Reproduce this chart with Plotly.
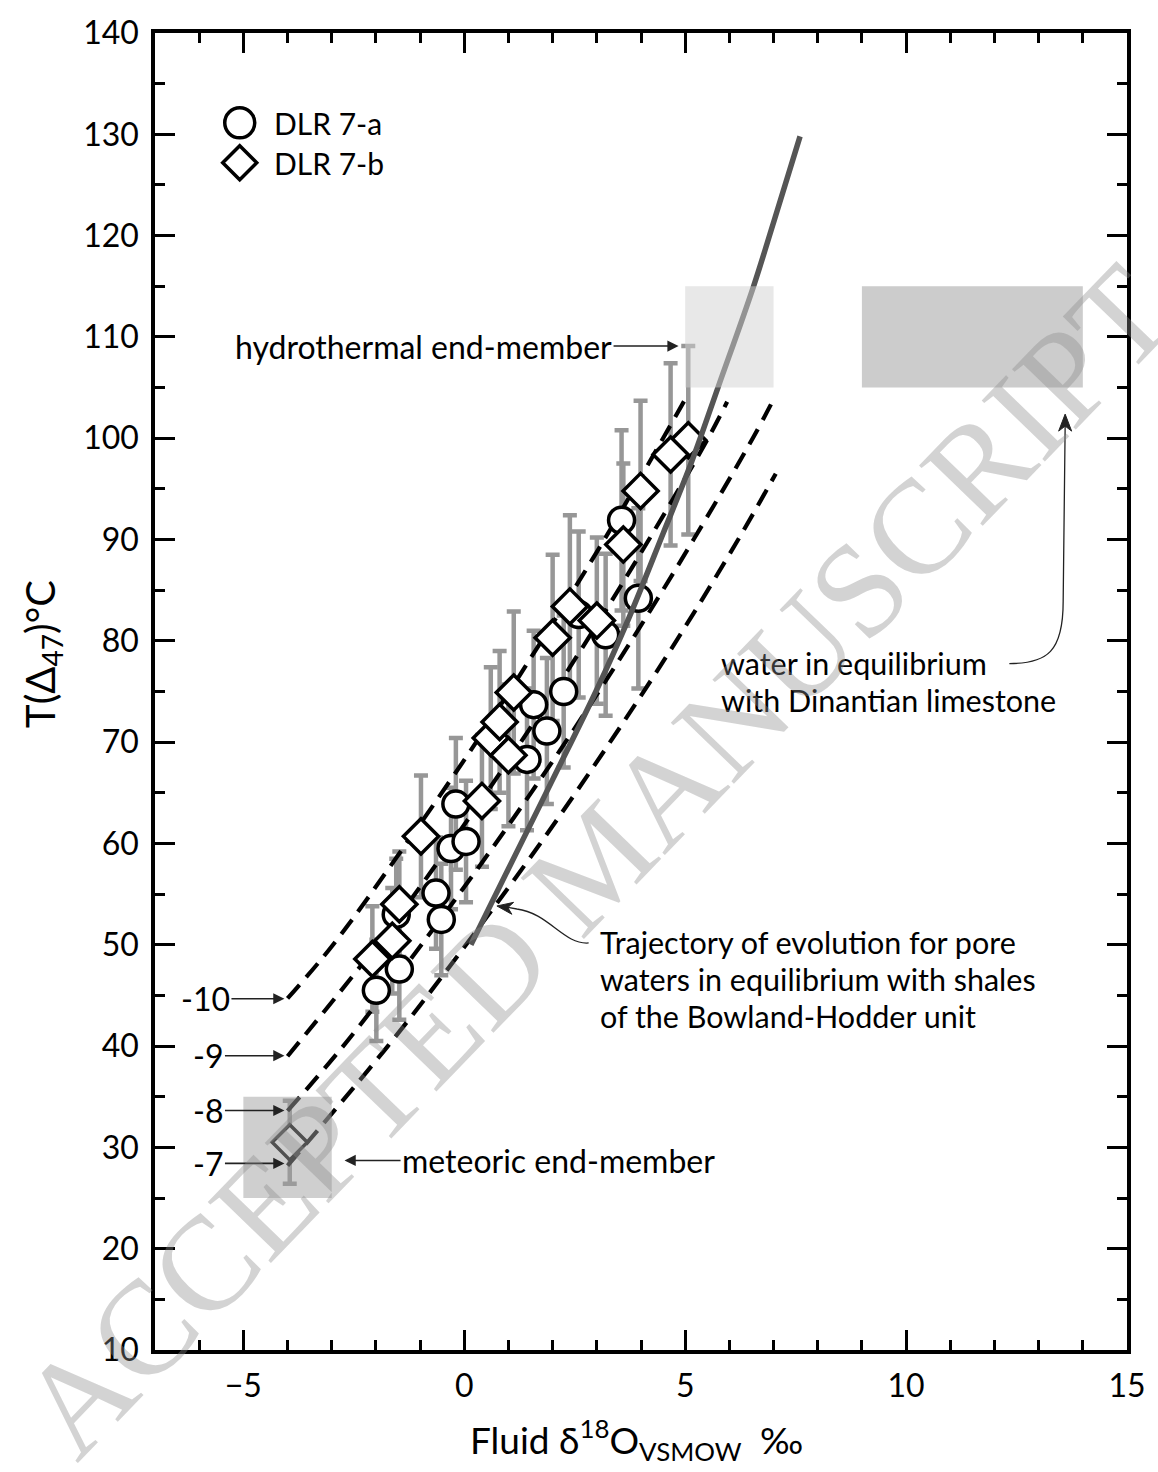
import plotly.graph_objects as go

# ---------------- data ----------------
# DLR 7-a (circles): fluid d18O (permil VSMOW), T(D47) degC, 1-sigma error on T
a_x = [3.56, 3.94, 2.59, 3.20, 2.25, 1.57, 1.87, 1.42, -0.19, -0.30, 0.04, -0.64, -0.52, -1.54, -1.47, -1.99]
a_t = [91.9, 84.2, 82.6, 80.6, 75.0, 73.7, 71.1, 68.3, 63.9, 59.5, 60.2, 55.1, 52.5, 53.0, 47.6, 45.5]
a_err = [8.9, 8.9, 8.2, 8.0, 7.5, 7.3, 7.2, 7.0, 6.5, 6.0, 6.0, 5.5, 5.5, 5.5, 5.0, 5.0]

# DLR 7-b (diamonds)
b_x = [5.07, 4.67, 3.99, 3.60, 2.39, 3.00, 2.00, 1.12, 0.60, 0.80, 1.00, 0.40, -0.98, -1.47, -1.63, -2.08, -3.95]
b_t = [99.8, 98.4, 94.8, 89.5, 83.4, 82.0, 80.3, 74.9, 70.4, 72.0, 68.7, 64.2, 60.7, 54.0, 50.4, 48.6, 30.5]
b_err = [9.3, 9.0, 8.9, 8.0, 9.0, 8.2, 8.2, 8.0, 7.0, 7.0, 7.0, 6.5, 6.0, 5.2, 5.2, 5.2, 4.1]

# calcite-water equilibrium curves (labelled by calcite d18O, permil VPDB)
eq_labels = ["-10", "-9", "-8", "-7"]
eq_m10_x = [-4.00, -2.97, -1.31, 0.27, 1.75, 3.17, 4.50, 5.02]
eq_m10_t = [44.7, 50.0, 60.0, 70.0, 80.0, 90.0, 100.0, 104.0]
eq_m9_x = [-4.00, -1.97, -0.30, 1.28, 2.77, 4.18, 5.52, 5.95]
eq_m9_t = [39.0, 50.0, 60.0, 70.0, 80.0, 90.0, 100.0, 103.6]
eq_m8_x = [-4.00, -2.74, -0.97, 0.71, 2.29, 3.78, 5.19, 6.53, 7.02]
eq_m8_t = [33.6, 40.0, 50.0, 60.0, 70.0, 80.0, 90.0, 100.0, 104.0]
eq_m7_x = [-4.00, -1.73, 0.04, 1.72, 3.30, 4.80, 6.20, 7.05]
eq_m7_t = [28.2, 40.0, 50.0, 60.0, 70.0, 80.0, 90.0, 96.5]

# pore-water trajectory (Bowland-Hodder shales)
sh_x = [0.15, 1.0, 2.0, 3.0, 3.72, 4.5, 5.14, 5.75, 6.54, 7.0, 7.6]
sh_t = [50.0, 57.5, 66.3, 75.2, 82.2, 90.6, 97.6, 105.1, 114.9, 121.3, 129.8]

# end-member boxes: (x0, x1, t0, t1)
meteoric_box = (-5, -3, 25, 35)
hydro_box = (5, 7, 105, 115)
dinantian_box = (9, 14, 105, 115)

x_ticks = [-5, 0, 5, 10, 15]
y_ticks = list(range(10, 141, 10))

FONT = "Lato"
ERRC = "#979797"
ARC = "#222222"

fig = go.Figure()

# error bars (under everything else)
for xs, ts, es in [(a_x, a_t, a_err), (b_x, b_t, b_err)]:
    fig.add_trace(go.Scatter(
        x=xs, y=ts, mode="markers", marker=dict(size=1, opacity=0),
        error_y=dict(type="data", array=es, visible=True, color=ERRC, thickness=4.5, width=7),
        hoverinfo="skip", showlegend=False))

# dashed equilibrium curves
for xs, ts in [(eq_m10_x, eq_m10_t), (eq_m9_x, eq_m9_t), (eq_m8_x, eq_m8_t), (eq_m7_x, eq_m7_t)]:
    fig.add_trace(go.Scatter(x=xs, y=ts, mode="lines", line_shape="spline",
                             line=dict(color="black", width=4.2, dash="18px,10px"),
                             showlegend=False, hoverinfo="skip"))

# data markers
fig.add_trace(go.Scatter(x=a_x, y=a_t, mode="markers", name="DLR 7-a",
                         marker=dict(symbol="circle", size=26, color="white",
                                     line=dict(color="black", width=3.5)), showlegend=False))
fig.add_trace(go.Scatter(x=b_x, y=b_t, mode="markers", name="DLR 7-b",
                         marker=dict(symbol="diamond", size=27, color="white",
                                     line=dict(color="black", width=3.5)), showlegend=False))

# shale trajectory (solid grey)
fig.add_trace(go.Scatter(x=sh_x, y=sh_t, mode="lines", line_shape="spline",
                         line=dict(color="#555555", width=5.5), showlegend=False, hoverinfo="skip"))

shapes = []
for (x0, x1, t0, t1), col in [(meteoric_box, "#a0a0a0"), (hydro_box, "#d2d2d2"), (dinantian_box, "#999999")]:
    shapes.append(dict(type="rect", xref="x", yref="y", x0=x0, x1=x1, y0=t0, y1=t1,
                       fillcolor=col, opacity=0.5, line=dict(width=0), layer="above"))

# connector curves (with straight end to the arrow tip)
shapes.append(dict(type="path", xref="x", yref="y",
                   path="M 12.337 77.76 C 13.194 77.76, 13.555 78.94, 13.555 83.86 L 13.60 101.2",
                   line=dict(color=ARC, width=1.3)))
shapes.append(dict(type="path", xref="x", yref="y",
                   path="M 2.815 50.18 C 2.251 49.98, 1.912 53.14, 1.190 53.53 L 0.95 53.72",
                   line=dict(color=ARC, width=1.3)))
# arrow heads for the connectors (pixel-sized, anchored at the tips)
shapes.append(dict(type="path", xref="x", yref="y", xsizemode="pixel", ysizemode="pixel",
                   xanchor=13.60, yanchor=102.38,
                   path="M 0 0 L -6.5 -17 L 0 -12 L 6.5 -17 Z",
                   line=dict(color=ARC, width=1), fillcolor=ARC))
shapes.append(dict(type="path", xref="x", yref="y", xsizemode="pixel", ysizemode="pixel",
                   xanchor=0.739, yanchor=53.83,
                   path="M 0 0 L 16.7 3.6 L 10.9 -1.6 L 14.9 -8.3 Z",
                   line=dict(color=ARC, width=1), fillcolor=ARC))

# legend keys (drawn as pixel-sized shapes)
lx = (240 - 155) / 975
shapes.append(dict(type="circle", xref="paper", yref="paper", xsizemode="pixel", ysizemode="pixel",
                   xanchor=lx, yanchor=(1350 - 120) / 1320, x0=-15, x1=15, y0=-15, y1=15,
                   line=dict(color="black", width=3.5), fillcolor="white"))
shapes.append(dict(type="path", xref="paper", yref="paper", xsizemode="pixel", ysizemode="pixel",
                   xanchor=lx, yanchor=(1350 - 160) / 1320,
                   path="M -17 0 L 0 17 L 17 0 L 0 -17 Z",
                   line=dict(color="black", width=3.5), fillcolor="white"))

ann = []
AF = dict(family=FONT, size=32, color="black")
BF = dict(family=FONT, size=30.5, color="black")
ARR = dict(showarrow=True, arrowhead=2, arrowsize=1.4, arrowwidth=1.6, arrowcolor=ARC)

# legend labels
for name, py in [("DLR 7-a", 120), ("DLR 7-b", 160)]:
    ann.append(dict(text=name, xref="paper", yref="paper", x=(272 - 155) / 975, y=(1350 - py) / 1320,
                    xanchor="left", yanchor="middle", showarrow=False, font=dict(family=FONT, size=30)))

# curve labels with arrows
for lab, yv, axo in zip(eq_labels, [44.67, 39.05, 33.64, 28.42], [-79, -76, -76, -76]):
    ann.append(dict(text=lab, x=-4.07, y=yv, xref="x", yref="y", ax=axo, ay=0, font=AF,
                    standoff=0, **ARR))

ann.append(dict(text="hydrothermal end-member", x=4.85, y=109.1, xref="x", yref="y",
                ax=-255, ay=0, font=AF, **ARR))
ann.append(dict(text="meteoric end-member", x=-2.71, y=28.71, xref="x", yref="y",
                ax=214, ay=0, font=AF, **ARR))

# multi-line labels (one annotation per line)
for txt, yv in [("water in equilibrium", 77.80), ("with Dinantian limestone", 74.16)]:
    ann.append(dict(text=txt, x=5.79, y=yv, xref="x", yref="y", xanchor="left", yanchor="middle",
                    showarrow=False, font=BF, borderpad=0))
for txt, yv in [("Trajectory of evolution for pore", 50.28),
                ("waters in equilibrium with shales", 46.64),
                ("of the Bowland-Hodder unit", 43.00)]:
    ann.append(dict(text=txt, x=3.04, y=yv, xref="x", yref="y", xanchor="left", yanchor="middle",
                    showarrow=False, font=BF, borderpad=0))

# axis titles
ann.append(dict(text="Fluid δ<sup>18</sup>O<sub>VSMOW</sub>\u2002‰", xref="paper", yref="paper",
                x=(638 - 155) / 975, y=(1350 - 1440) / 1320, xanchor="center", yanchor="middle",
                showarrow=False, font=dict(family=FONT, size=37)))
ann.append(dict(text="T(Δ<sub>47</sub>)°C", xref="paper", yref="paper",
                x=(42 - 155) / 975, y=(1350 - 652) / 1320, xanchor="center", yanchor="middle",
                textangle=-90, showarrow=False, font=dict(family=FONT, size=40)))

# watermark
ann.append(dict(text="ACCEPTED MANUSCRIPT", xref="paper", yref="paper",
                x=(598 - 155) / 975, y=(1350 - 860) / 1320, xanchor="center", yanchor="middle",
                textangle=-46, showarrow=False,
                font=dict(family="Liberation Serif", size=134, color="rgba(140,140,140,0.38)")))

axis_common = dict(showgrid=False, zeroline=False, showline=True, linecolor="black", linewidth=3.5,
                   mirror="allticks", ticks="inside", ticklen=20, tickwidth=3, tickcolor="black",
                   tickfont=dict(family=FONT, size=32, color="black"),
                   minor=dict(ticks="inside", ticklen=10, tickwidth=3, tickcolor="black", showgrid=False))

fig.update_xaxes(range=[-7, 15], tickmode="array", tickvals=x_ticks, ticklabelstandoff=5,
                 **{**axis_common, "minor": {**axis_common["minor"], "dtick": 1, "tick0": 0}})
fig.update_yaxes(range=[10, 140], tickmode="array", tickvals=y_ticks, ticklabelstandoff=6,
                 **{**axis_common, "minor": {**axis_common["minor"], "dtick": 5, "tick0": 0}})

fig.update_layout(width=1158, height=1472, margin=dict(l=155, r=28, t=30, b=122),
                  plot_bgcolor="white", paper_bgcolor="white", showlegend=False,
                  font=dict(family=FONT, color="black"), shapes=shapes, annotations=ann)

fig.write_html("out.html")
